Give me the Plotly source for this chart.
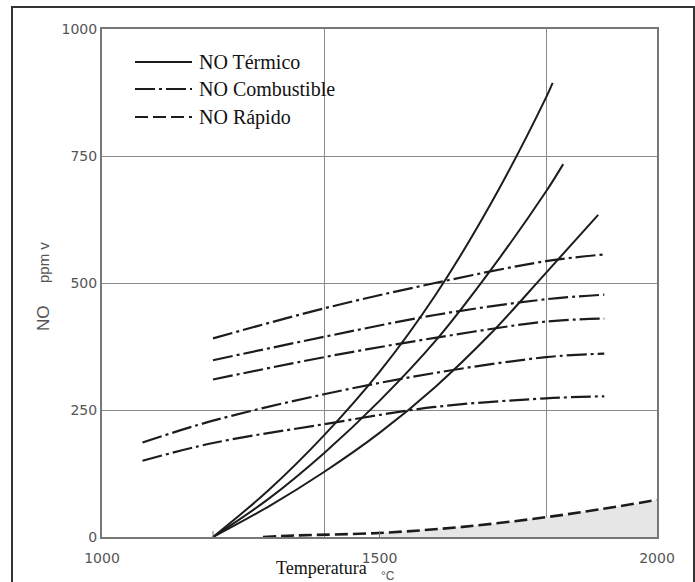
import plotly.graph_objects as go

# ---------------- data ----------------
# NO térmico (solid)
term_a_T = [1200, 1300, 1400, 1500, 1600, 1700, 1800, 1812]
term_a_v = [0, 92, 200, 325, 475, 655, 865, 894]
term_b_T = [1200, 1300, 1400, 1500, 1600, 1700, 1800, 1831]
term_b_v = [0, 75, 165, 268, 385, 525, 680, 734]
term_c_T = [1200, 1300, 1400, 1500, 1600, 1700, 1800, 1894]
term_c_v = [0, 60, 128, 205, 295, 400, 520, 634]

# NO combustible (dash-dot)
comb1_T = [1200, 1400, 1600, 1800, 1903]
comb1_v = [391, 450, 500, 543, 556]
comb2_T = [1200, 1400, 1600, 1800, 1905]
comb2_v = [348, 394, 437, 468, 477]
comb3_T = [1200, 1400, 1600, 1800, 1905]
comb3_v = [310, 354, 392, 424, 430]
comb4_T = [1073, 1200, 1400, 1600, 1800, 1905]
comb4_v = [186, 229, 281, 323, 354, 361]
comb5_T = [1073, 1200, 1400, 1600, 1800, 1905]
comb5_v = [150, 185, 222, 256, 273, 277]

# NO rápido (dashed)
rap_T = [1290, 1350, 1500, 1650, 1800, 1900, 2000]
rap_v = [0, 3, 8, 20, 39, 55, 73]
shade_from = 1500

x_ticks = [1000, 1500, 2000]
y_ticks = [0, 250, 500, 750, 1000]
x_grid = [1400, 1800]
legend_labels = ["NO Térmico", "NO Combustible", "NO Rápido"]

# ---------------- figure ----------------
INK = "#1c1c1c"
DASHDOT = "20px,4px,3px,4px"
DASHED = "13px,5px"

fig = go.Figure()

# shaded area under rapid NO
sh_T = [t for t in rap_T if t >= shade_from]
sh_v = [v for t, v in zip(rap_T, rap_v) if t >= shade_from]
fig.add_trace(go.Scatter(x=sh_T, y=sh_v, mode="lines", line=dict(width=0, shape="spline"),
                         fill="tozeroy", fillcolor="#e6e6e6", hoverinfo="skip"))

for T, v in [(term_a_T, term_a_v), (term_b_T, term_b_v), (term_c_T, term_c_v)]:
    fig.add_trace(go.Scatter(x=T, y=v, mode="lines",
                             line=dict(color=INK, width=2, shape="spline", smoothing=1)))

for T, v in [(comb1_T, comb1_v), (comb2_T, comb2_v), (comb3_T, comb3_v),
             (comb4_T, comb4_v), (comb5_T, comb5_v)]:
    fig.add_trace(go.Scatter(x=T, y=v, mode="lines",
                             line=dict(color=INK, width=2.2, dash=DASHDOT, shape="spline")))

fig.add_trace(go.Scatter(x=rap_T, y=rap_v, mode="lines",
                         line=dict(color=INK, width=2.6, dash=DASHED, shape="spline")))

L, R, T_, B = 102, 657, 29, 537
W, H = 695, 582
def px(x):
    return (x - L) / (R - L)
def py(y):
    return (B - y) / (B - T_)

shapes = []
# small inner ticks on the x axis
for t in [1200, 1500]:
    shapes.append(dict(type="line", xref="x", yref="y", x0=t, x1=t, y0=0, y1=12,
                       line=dict(color="#777", width=1)))
# legend samples
leg_y = [62, 89, 117]
leg_dash = ["solid", DASHDOT, DASHED]
for yy, d in zip(leg_y, leg_dash):
    shapes.append(dict(type="line", xref="paper", yref="paper",
                       x0=px(135), x1=px(192), y0=py(yy), y1=py(yy),
                       line=dict(color=INK, width=2, dash=d)))
# outer frame of the picture
shapes.append(dict(type="rect", xref="paper", yref="paper",
                   x0=px(12), x1=px(694), y0=py(600), y1=py(7),
                   line=dict(color="#333", width=2), layer="above"))

annotations = []
for yy, lab in zip(leg_y, legend_labels):
    annotations.append(dict(text=lab, xref="paper", yref="paper", x=px(197), y=py(yy),
                            xanchor="left", yanchor="middle", showarrow=False,
                            font=dict(family="Liberation Serif", size=20, color="#111")))
annotations.append(dict(text="Temperatura", xref="paper", yref="paper", x=px(321), y=py(568),
                        xanchor="center", yanchor="middle", showarrow=False,
                        font=dict(family="Liberation Serif", size=18, color="#111")))
annotations.append(dict(text="°C", xref="paper", yref="paper", x=px(388), y=py(576),
                        xanchor="center", yanchor="middle", showarrow=False,
                        font=dict(family="Liberation Sans", size=12, color="#555")))
annotations.append(dict(text="NO", xref="paper", yref="paper", x=px(43), y=py(318),
                        xanchor="center", yanchor="middle", showarrow=False, textangle=-90,
                        font=dict(family="Liberation Sans", size=17, color="#555")))
annotations.append(dict(text="ppm v", xref="paper", yref="paper", x=px(43), y=py(263),
                        xanchor="center", yanchor="middle", showarrow=False, textangle=-90,
                        font=dict(family="Liberation Sans", size=15, color="#555")))

fig.update_layout(
    width=W, height=H,
    margin=dict(l=L, r=W - R, t=T_, b=H - B),
    paper_bgcolor="white", plot_bgcolor="white",
    showlegend=False,
    shapes=shapes, annotations=annotations,
    font=dict(family="DejaVu Sans", size=14, color="#555"),
)
fig.update_xaxes(range=[1000, 2000], tickmode="array", tickvals=x_ticks,
                 showgrid=False, zeroline=False, showline=True, mirror=True,
                 linecolor="#777", linewidth=2, ticks="", ticklabelstandoff=7,
                 minor=dict(tickmode="array", tickvals=x_grid, showgrid=True,
                            gridcolor="#8a8a8a", gridwidth=1, ticks=""))
fig.update_yaxes(range=[0, 1000], tickmode="array", tickvals=y_ticks,
                 showgrid=True, gridcolor="#8a8a8a", gridwidth=1, zeroline=False,
                 showline=True, mirror=True, linecolor="#777", linewidth=2, ticks="")

fig.write_html("out.html")
